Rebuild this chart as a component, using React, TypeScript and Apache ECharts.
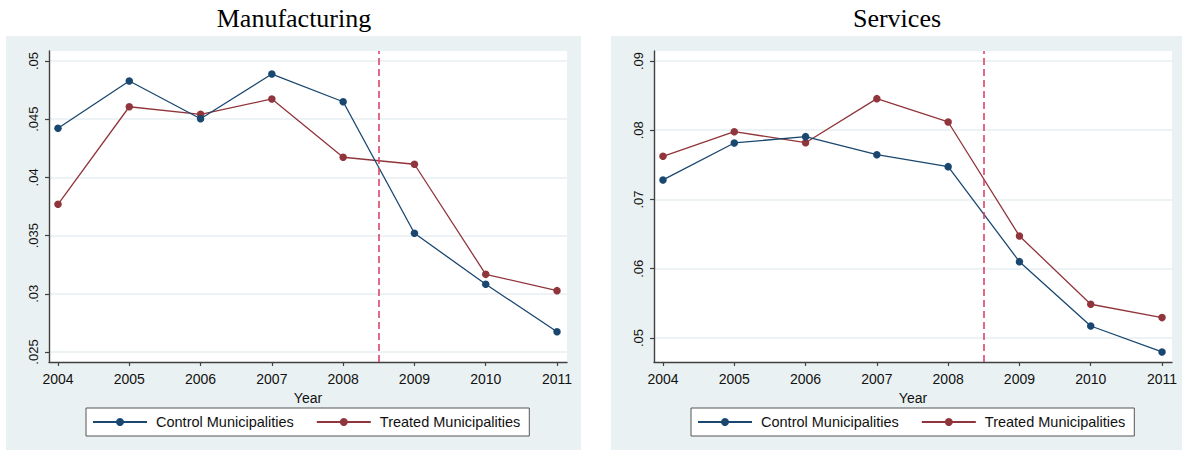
import React, { useEffect, useRef } from "react";
import * as echarts from "echarts";

// Years on the horizontal axis
const years = [2004, 2005, 2006, 2007, 2008, 2009, 2010, 2011];

// Manufacturing panel
const mfgControl = [0.04422, 0.04828, 0.04504, 0.04888, 0.0465, 0.0352, 0.03082, 0.02674];
const mfgTreated = [0.03769, 0.04607, 0.04542, 0.04674, 0.04173, 0.04113, 0.03167, 0.03027];
const mfgTicks = [0.025, 0.03, 0.035, 0.04, 0.045, 0.05];

// Services panel
const svcControl = [0.07282, 0.07816, 0.07907, 0.07647, 0.07474, 0.06102, 0.05173, 0.04798];
const svcTreated = [0.07623, 0.07979, 0.0782, 0.08456, 0.08119, 0.06473, 0.05487, 0.05294];
const svcTicks = [0.05, 0.06, 0.07, 0.08, 0.09];

const panelTitles = ["Manufacturing", "Services"];
const seriesNames = ["Control Municipalities", "Treated Municipalities"];
const policyYear = 2008.5;

const NAVY = "#1a476f";
const MAROON = "#90353b";
const AXIS = "#404040";
const PANEL_BG = "#eaf1f3";
const GRID_LINE = "#edf3f5";
const SANS = "'Liberation Sans', Arial, sans-serif";

const fmtTick = (v: number) => Number(v.toFixed(4)).toString().replace(/^0\./, ".");

function pairs(vals: number[]) {
  return years.map((y, i) => [y, vals[i]]);
}

export default function App() {
  const ref = useRef<HTMLDivElement>(null);

  useEffect(() => {
    if (!ref.current) return;
    const chart = echarts.init(ref.current, null, { renderer: "svg" });

    const grids = [
      { left: 49, top: 51, width: 518, height: 311 },
      { left: 654, top: 51, width: 518, height: 311 },
    ];
    const yRanges = [
      { min: 0.02414, max: 0.05086, ticks: mfgTicks },
      { min: 0.04653, max: 0.09144, ticks: svcTicks },
    ];

    const xAxes = grids.map((_, i) => ({
      type: "value",
      gridIndex: i,
      min: 2003.874,
      max: 2011.14,
      name: "Year",
      nameLocation: "middle",
      nameGap: 22,
      nameTextStyle: { fontFamily: SANS, fontSize: 14, color: "#111" },
      axisLine: { show: true, lineStyle: { color: AXIS, width: 1.4 } },
      axisTick: { show: true, length: 4, customValues: years, lineStyle: { color: AXIS, width: 1.2 } },
      axisLabel: {
        customValues: years,
        margin: 10,
        fontFamily: SANS,
        fontSize: 14,
        color: "#111",
        formatter: (v: number) => String(Math.round(v)),
      },
      splitLine: { show: false },
    }));

    const yAxes = yRanges.map((r, i) => ({
      type: "value",
      gridIndex: i,
      min: r.min,
      max: r.max,
      axisLine: { show: true, lineStyle: { color: AXIS, width: 1.4 } },
      axisTick: { show: true, length: 4, customValues: r.ticks, lineStyle: { color: AXIS, width: 1.2 } },
      axisLabel: {
        customValues: r.ticks,
        rotate: 90,
        margin: 9,
        fontFamily: SANS,
        fontSize: 13,
        color: "#111",
        formatter: fmtTick,
      },
      splitLine: { show: true, lineStyle: { color: GRID_LINE, width: 2 } },
    }));

    const mkSeries = (name: string, data: number[], color: string, idx: number, withMark: boolean) => ({
      type: "line",
      name,
      xAxisIndex: idx,
      yAxisIndex: idx,
      data: pairs(data),
      symbol: "circle",
      symbolSize: 7.5,
      lineStyle: { color, width: 1.3 },
      itemStyle: { color },
      z: name === seriesNames[0] ? 3 : 2,
      markLine: withMark
        ? {
            silent: true,
            symbol: "none",
            label: { show: false },
            lineStyle: { color: "#d93a63", width: 1.5, type: [7, 4] },
            data: [{ xAxis: policyYear }],
          }
        : undefined,
    });

    const legends = [86, 691].map((left) => ({
      left,
      top: 408,
      orient: "horizontal",
      data: seriesNames,
      backgroundColor: "#fff",
      borderColor: "#555",
      borderWidth: 1,
      borderRadius: 0,
      padding: [6, 9, 6, 6],
      itemGap: 22,
      itemWidth: 54,
      itemHeight: 10,
      selectedMode: false,
      textStyle: { fontFamily: SANS, fontSize: 14.5, color: "#111", lineHeight: 16, padding: [0, 0, 0, 4] },
    }));

    const panels = [
      { x: 6, w: 575, cx: 294 },
      { x: 611, w: 571, cx: 897 },
    ];

    chart.setOption({
      animation: false,
      backgroundColor: "#fff",
      graphic: [
        ...panels.map((p) => ({
          type: "rect",
          z: -10,
          silent: true,
          shape: { x: p.x, y: 36, width: p.w, height: 414 },
          style: { fill: PANEL_BG },
        })),
        ...panels.map((p, i) => ({
          type: "text",
          x: p.cx,
          y: 18,
          silent: true,
          style: {
            text: panelTitles[i],
            fill: "#000",
            font: "26px 'Liberation Serif', 'Times New Roman', serif",
            textAlign: "center",
            textVerticalAlign: "middle",
          },
        })),
      ],
      grid: grids.map((g) => ({
        ...g,
        show: true,
        backgroundColor: "#fff",
        borderWidth: 0,
        containLabel: false,
      })),
      xAxis: xAxes,
      yAxis: yAxes,
      legend: legends,
      series: [
        mkSeries(seriesNames[0], mfgControl, NAVY, 0, true),
        mkSeries(seriesNames[1], mfgTreated, MAROON, 0, false),
        mkSeries(seriesNames[0], svcControl, NAVY, 1, true),
        mkSeries(seriesNames[1], svcTreated, MAROON, 1, false),
      ],
    });

    return () => chart.dispose();
  }, []);

  return (
    <div
      ref={ref}
      style={{ position: "fixed", left: 0, top: 0, width: 1182, height: 452 }}
    />
  );
}
